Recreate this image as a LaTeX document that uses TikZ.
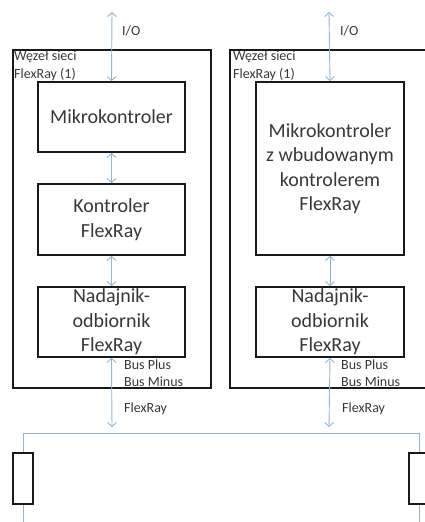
\documentclass[tikz,border=0pt]{standalone}
\usepackage{fontspec}
\setmainfont{Carlito}
\usetikzlibrary{positioning, arrows.meta}
\definecolor{szyna}{RGB}{149,179,215}
\definecolor{tekst}{RGB}{56,56,56}

\tikzset{
  wezel/.style={draw=black!90, line width=1.4pt, minimum width=198pt, minimum height=338pt, inner sep=0pt},
  blok/.style={draw=black!90, line width=1.8pt, minimum width=147pt, align=center, inner sep=0pt,
    text=tekst, font=\fontsize{20}{24.5}\selectfont},
  opis/.style={anchor=west, align=left, inner sep=0pt, text=tekst, font=\fontsize{14}{17.5}\selectfont},
  lacze/.style={draw=szyna, line width=0.9pt, >={Straight Barb[length=4pt, width=9pt]}},
  terminator/.style={draw=black!90, line width=1.6pt, minimum width=20pt, minimum height=51pt, inner sep=0pt}
}

\begin{document}
\begin{tikzpicture}[x=1pt, y=-1pt]
        \useasboundingbox (0, 0) rectangle (425, 522);
        \clip (0, 0) rectangle (425, 522);
        % Wezel 1
        \node [wezel] (w1) at (112, 219) {};
        \node [opis, anchor=north west, align=left] (w1opis) at (14, 51) {Węzeł sieci\\FlexRay (1)};
        \node [blok, minimum height=70pt] (mk1) at (111.5, 117) {Mikrokontroler};
        \node [blok, minimum height=71pt] (kf1) at (111.5, 219.5) {Kontroler\\FlexRay};
        \node [blok, minimum height=70pt] (nd1) at (111.5, 322) {Nadajnik-\\odbiornik\\FlexRay};
        % Wezel 2
        \node [wezel] (w2) at (329, 219) {};
        \node [opis, anchor=north west, align=left] (w2opis) at (233, 51) {Węzeł sieci\\FlexRay (1)};
        \node [blok, minimum width=148pt, minimum height=173pt] (mk2) at (330, 168.5) {Mikrokontroler\\z wbudowanym\\kontrolerem\\FlexRay};
        \node [blok, minimum width=148pt, minimum height=70pt] (nd2) at (330, 322) {Nadajnik-\\odbiornik\\FlexRay};
        % Punkty
        \coordinate (io1) at (112, 12);
        \coordinate (io2) at (329, 12);
        \coordinate (fr1) at (112, 427);
        \coordinate (fr2) at (329, 427);
        \coordinate (bl) at (23, 433);
        \coordinate (br) at (419, 433);
        \coordinate (dl) at (23, 530);
        \coordinate (dr) at (419, 530);
        % Terminatory
        \node [terminator] (tl) at (23, 478.5) {};
        \node [terminator] (tr) at (419, 478.5) {};
        % Lacza
        \draw [lacze, <->] (io1) -- (mk1.north);
        \draw [lacze, <->] (mk1.south) -- (kf1.north);
        \draw [lacze, <->] (kf1.south) -- (nd1.north);
        \draw [lacze, <->] (nd1.south) -- (fr1);
        \draw [lacze, <->] (io2) -- (mk2.north);
        \draw [lacze, <->] (mk2.south) -- (nd2.north);
        \draw [lacze, <->] (nd2.south) -- (fr2);
        % Szyna
        \draw [lacze] (tl.north) -- (bl) -- (br) -- (tr.north);
        \draw [lacze] (tl.south) -- (dl);
        \draw [lacze] (tr.south) -- (dr);
        % Etykiety
        \node [opis] (io1opis) at (122, 31) {I/O};
        \node [opis] (io2opis) at (340, 31) {I/O};
        \node [opis] (bus1) at (124, 373) {Bus Plus\\Bus Minus};
        \node [opis] (bus2) at (341, 373) {Bus Plus\\Bus Minus};
        \node [opis] (fx1) at (124, 409) {FlexRay};
        \node [opis] (fx2) at (342, 409) {FlexRay};
    \end{tikzpicture}
\end{document}
